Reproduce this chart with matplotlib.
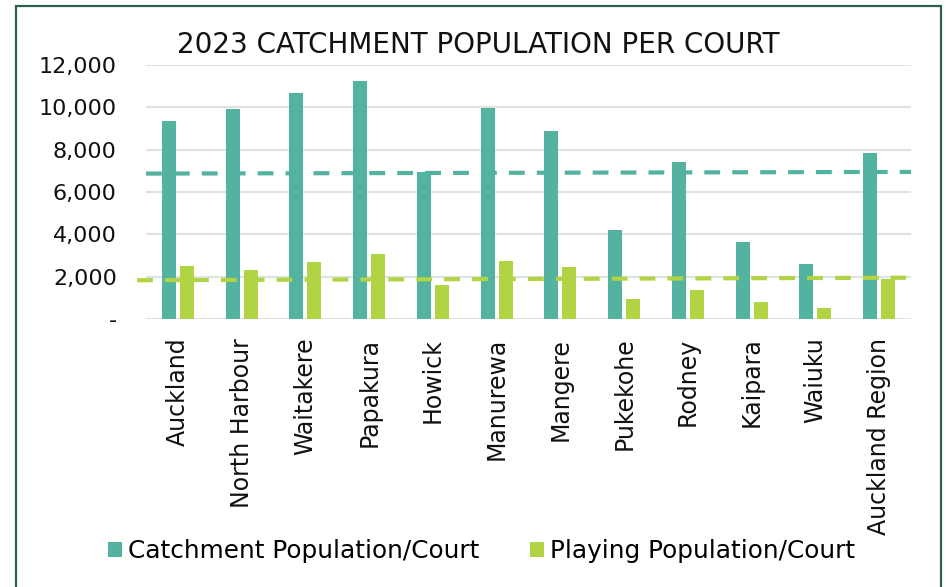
import numpy as np
import matplotlib.pyplot as plt
from matplotlib.patches import Rectangle

# Data
areas = ['Auckland', 'North Harbour', 'Waitakere', 'Papakura', 'Howick', 'Manurewa',
         'Mangere', 'Pukekohe', 'Rodney', 'Kaipara', 'Waiuku', 'Auckland Region']
catchment = [9350, 9900, 10700, 11240, 6950, 9950, 8860, 4220, 7410, 3660, 2590, 7820]
playing = [2500, 2320, 2700, 3060, 1600, 2740, 2440, 930, 1390, 800, 530, 1900]

# average lines (drawn across the plot, start / end)
avg_catchment = [6870, 6950]
avg_playing = [1830, 1950]

teal = '#54B2A1'
green = '#B0D444'
grid_col = '#DCE3E1'
font = 'DejaVu Sans'

fig = plt.figure(figsize=(9.48, 5.87), dpi=100)
ax = fig.add_axes([0.154, 0.4566, 0.807, 0.4326])

x = np.arange(len(areas))
w = 0.22
ax.bar(x - 0.142, catchment, w, color=teal, label='Catchment Population/Court', zorder=3)
ax.bar(x + 0.142, playing, w, color=green, label='Playing Population/Court', zorder=3)

ax.plot([-0.5, len(areas) - 0.5], avg_catchment, color=teal, lw=3, dashes=(3.8, 2.9), zorder=4, clip_on=False)
ax.plot([-0.64, len(areas) - 0.58], avg_playing, color=green, lw=3, dashes=(3.8, 2.9), zorder=4, clip_on=False)

ax.set_xlim(-0.5, len(areas) - 0.5)
ax.set_ylim(0, 12000)
ax.set_yticks(np.arange(0, 12001, 2000))
ax.set_yticklabels(['-'] + [f'{v:,}' for v in range(2000, 12001, 2000)],
                   fontsize=16, family=font, color='#111111')
ax.set_xticks(x)
ax.set_xticklabels(areas, rotation=90, fontsize=17, family=font, color='#111111')
ax.tick_params(length=0)
ax.tick_params(axis='y', pad=21)
ax.tick_params(axis='x', pad=13.5)
ax.grid(axis='y', color=grid_col, lw=1.5, zorder=0)
for s in ax.spines.values():
    s.set_visible(False)

fig.text(0.504, 0.923, '2023 CATCHMENT POPULATION PER COURT', ha='center', va='center',
         fontsize=20, family=font, color='#111111')

fig.legend(loc='center', bbox_to_anchor=(0.508, 0.061), ncol=2, frameon=False,
           prop={'family': font, 'size': 17.8}, handlelength=0.56, handleheight=0.56,
           handletextpad=0.25, columnspacing=2.05)

fig.patches.append(Rectangle((16 / 948, -0.1), 925 / 948, 1.09, transform=fig.transFigure,
                             fill=False, edgecolor='#2E5E52', lw=1.6))

fig.savefig('out.png', dpi=100)
